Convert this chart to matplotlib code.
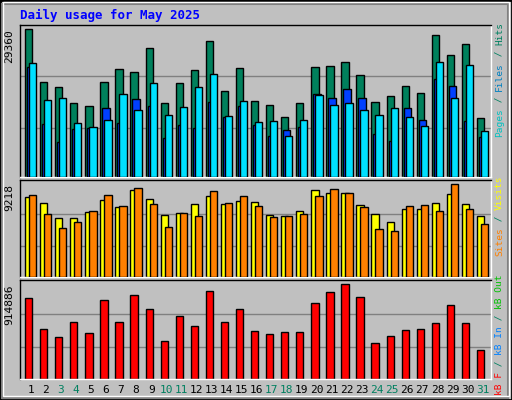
import matplotlib
matplotlib.use("Agg")
import matplotlib.pyplot as plt
from matplotlib.patches import Rectangle

days = list(range(1, 32))
weekend = [3, 4, 10, 11, 17, 18, 24, 25, 31]
hits = [29360, 18800, 17803, 14615, 14017, 18800, 21390, 20792, 25575, 14615, 18600, 21191, 26970, 17006, 21590, 15013,
        14216, 12024, 14615, 21789, 21988, 22785, 20194, 14813, 16010, 18002, 16607, 28166, 24180, 26372, 11824]
files = [22586, 15212, 15611, 10828, 10031, 11426, 16408, 13219, 18600, 12422, 13817, 17803, 20394, 12223, 15013, 11027,
         11227, 8237, 11426, 16209, 14216, 14615, 13219, 12422, 13618, 12024, 10230, 22785, 15611, 22187, 9234]
pages = [21789, 10629, 7042, 9632, 9832, 13618, 10828, 15411, 14017, 7839, 10429, 9832, 14813, 12024, 14017, 10429,
         8237, 9433, 10031, 16408, 15611, 17405, 15611, 8636, 7241, 13618, 11426, 19397, 18002, 11227, 8038]
visits = [7921, 7322, 5824, 5824, 6423, 7621, 6922, 8620, 7721, 6124, 6323, 7222, 8020, 7222, 7521, 7421,
          6124, 6024, 6523, 8620, 8320, 8320, 7122, 6223, 5425, 6723, 6723, 7322, 8220, 7222, 6024]
sites = [8120, 6223, 4826, 5425, 6523, 8120, 7022, 8819, 7222, 4925, 6323, 6024, 8520, 7322, 8020, 7022,
         5924, 6024, 6223, 8020, 8720, 8320, 6922, 4726, 4526, 7022, 7122, 6523, 9218, 6723, 5225]
kbytes = [784700, 484200, 404000, 554300, 444100, 764600, 554300, 814700, 674500, 364000, 604400, 514200, 854800,
          554300, 674500, 464100, 434100, 454100, 454100, 734600, 844800, 914886, 794700, 343900, 414000, 474100,
          484200, 544300, 714500, 544300, 283800]

BG = "#C0C0C0"
W, H = 512, 400
fig = plt.figure(figsize=(5.12, 4.0), dpi=100, facecolor=BG)
fig.patches.append(Rectangle((0, 0), 1, 1, transform=fig.transFigure, fill=False, ec="black", lw=2))
fig.patches.append(Rectangle((2/W, 2/H), 1-6/W, 1-6/H, transform=fig.transFigure, fill=False, ec="#808080", lw=1.5))
fig.patches.append(Rectangle((3/W, 4/H), 1-6/W, 1-6/H, transform=fig.transFigure, fill=False, ec="white", lw=1))

X0, X1 = 20, 491
slot = (X1 - X0 - 4) / 31.0
mono = "DejaVu Sans Mono"

def mkax(top, bottom, maxv, markpos):
    ax = fig.add_axes([X0 / W, 1 - bottom / H, (X1 - X0) / W, (bottom - top) / H])
    ax.set_facecolor(BG)
    ax.set_xlim(0, X1 - X0)
    ax.set_ylim(0, maxv * (bottom - top) / (bottom - markpos))
    for s in ax.spines.values():
        s.set_linewidth(1)
    ax.spines["top"].set_color("black"); ax.spines["left"].set_color("black")
    ax.spines["bottom"].set_color("white"); ax.spines["right"].set_color("white")
    ax.set_xticks([]); ax.set_yticks([])
    for f in (0.335, 0.683):
        ax.axhline(maxv * f, color="#808080", lw=1, zorder=0)
    ax.text(-0.012, maxv, str(maxv), rotation=90, ha="right", va="top", fontsize=8, family=mono,
            transform=ax.get_yaxis_transform())
    return ax

xs = [5 + i * slot for i in range(31)]
bw = 7.3
kw = dict(align="edge", edgecolor="black", linewidth=1)

ax1 = mkax(25, 177, 29360, 29.3)
ax1.bar(xs, hits, width=bw, color="#00805C", zorder=2, **kw)
ax1.bar([x + 2 for x in xs], pages, width=bw, color="#0040FF", zorder=3, **kw)
ax1.bar([x + 4 for x in xs], files, width=bw, color="#00E0FF", zorder=4, **kw)

ax2 = mkax(180, 277, 9218, 184.3)
ax2.bar(xs, visits, width=bw, color="#FFFF00", zorder=2, **kw)
ax2.bar([x + 4 for x in xs], sites, width=bw, color="#FF8000", zorder=3, **kw)

ax3 = mkax(280, 379, 914886, 284.3)
ax3.bar(xs, kbytes, width=bw, color="#FF0000", zorder=2, **kw)

for i, d in enumerate(days):
    ax3.text(xs[i] + bw / 2 + 2, -0.06, str(d), ha="center", va="top", fontsize=8, family=mono,
             color="#008060" if d in weekend else "black", transform=ax3.get_xaxis_transform())

fig.text(20 / W, 1 - 15 / H, "Daily usage for May 2025", color="#0000FF", fontsize=9, family=mono,
         weight="bold", ha="left", va="center")

fig.canvas.draw()
r = fig.canvas.get_renderer()

def side(start_px, parts):
    y = 1 - start_px / H
    for s, c in parts:
        t = fig.text(495 / W, y, s, rotation=90, color=c, fontsize=6.8, family=mono,
                     ha="left", va="bottom")
        bb = t.get_window_extent(r)
        y = bb.y1 / H

side(137, [("Pages", "#00C0C0"), (" / ", "#008060"), ("Files", "#0080C0"), (" / ", "#008060"), ("Hits", "#008060")])
side(256, [("Sites", "#FF8000"), (" / ", "#008060"), ("Visits", "#FFFF00")])
side(395, [("kB F", "#FF0000"), (" / ", "#008060"), ("kB In", "#0080FF"), (" / ", "#008060"), ("kB Out", "#00C000")])

fig.savefig("out.png", dpi=100, facecolor=BG)
